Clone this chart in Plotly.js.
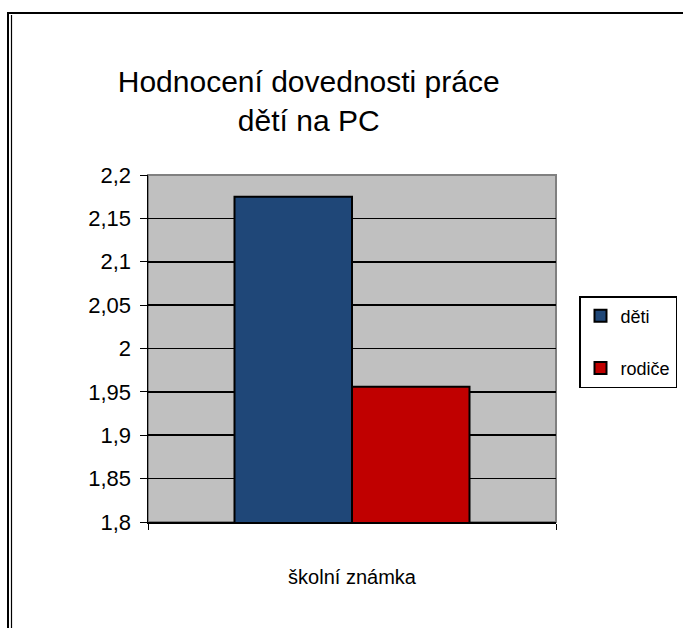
<!DOCTYPE html>
<html><head><meta charset="utf-8">
<script src="https://cdn.plot.ly/plotly-3.0.1.min.js"></script>
<style>html,body{margin:0;padding:0;background:#fff}#chart{width:683px;height:628px}</style>
</head><body><div id="chart"></div>
<script>
const categories = ["školní známka"];
const seriesNames = ["děti", "rodiče"];
const detiValues = [2.175];
const rodiceValues = [1.956];
const yTicks = [1.8, 1.85, 1.9, 1.95, 2.0, 2.05, 2.1, 2.15, 2.2];
const yTickLabels = ["1,8", "1,85", "1,9", "1,95", "2", "2,05", "2,1", "2,15", "2,2"];

const L = 148, R = 556, T = 175, B = 522, W = 683, H = 628;
const px = x => (x - L) / (R - L);
const py = y => (B - y) / (B - T);

const font = "Liberation Sans, Arial, sans-serif";
const traces = [
  {type: "bar", name: seriesNames[0], x: categories, y: detiValues, legendgroup: "a",
   marker: {color: "#1F4778", line: {color: "#000", width: 2}}},
  {type: "bar", name: seriesNames[1], x: categories, y: rodiceValues, legendgroup: "b",
   marker: {color: "#C00000", line: {color: "#000", width: 2}}}
];
const layout = {
  width: W, height: H,
  margin: {l: L, r: W - R, t: T, b: H - B, pad: 0, autoexpand: false},
  paper_bgcolor: "#fff", plot_bgcolor: "#C0C0C0",
  separators: ", ",
  font: {family: font, color: "#000"},
  title: {text: "Hodnocení dovednosti práce<br>dětí na PC", font: {size: 30, family: font},
          x: 0.452, xanchor: "center", y: 0.853, yanchor: "middle", xref: "container", yref: "container"},
  barmode: "group", bargap: 0.424, bargroupgap: 0,
  xaxis: {type: "category", showgrid: false, showline: true, linecolor: "#000", linewidth: 1.5,
          ticks: "outside", tickson: "boundaries", ticklen: 6, tickcolor: "#000",
          tickfont: {size: 20, family: font}, ticklabelstandoff: 36, fixedrange: true},
  yaxis: {range: [1.8, 2.2], tickvals: yTicks, ticktext: yTickLabels, showgrid: true,
          gridcolor: "#000", gridwidth: 1.6, showline: true, linecolor: "#000", linewidth: 1.5,
          ticks: "outside", ticklen: 7, tickcolor: "#000", tickfont: {size: 22, family: font},
          ticklabelstandoff: 4, zeroline: false, fixedrange: true},
  legend: {x: px(579), y: py(296), xanchor: "left", yanchor: "top", xref: "paper", yref: "paper",
           bordercolor: "#000", borderwidth: 1.5, bgcolor: "#fff", font: {size: 18, family: font},
           traceorder: "grouped", tracegroupgap: 26, itemwidth: 30},
  shapes: [
    {type: "rect", xref: "paper", yref: "paper", x0: 0, x1: 1, y0: 0, y1: 1,
     line: {color: "#808080", width: 2}, layer: "below"},
    {type: "rect", xref: "paper", yref: "paper", x0: px(8), x1: px(700), y0: py(13), y1: py(660),
     line: {color: "#000", width: 2}, fillcolor: "rgba(0,0,0,0)", layer: "below"},
    {type: "line", xref: "paper", yref: "paper", x0: px(11.5), x1: px(11.5), y0: py(15), y1: py(660),
     line: {color: "#000", width: 1.2}, layer: "below"}
  ]
};
Plotly.newPlot("chart", traces, layout, {displayModeBar: false, staticPlot: true});
</script></body></html>
